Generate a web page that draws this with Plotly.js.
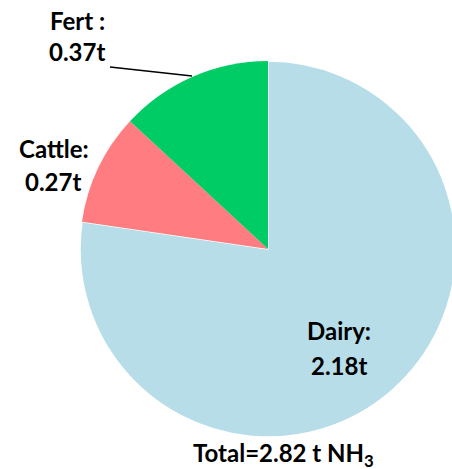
<!DOCTYPE html>
<html>
<head>
<meta charset="utf-8">
<script src="https://cdn.plot.ly/plotly-3.0.1.min.js"></script>
<style>
html,body{margin:0;padding:0;overflow:hidden;background:#fff;}
#chart{width:456px;height:469px;}
</style>
</head>
<body>
<div id="chart"></div>
<script>
const categories = ["Dairy", "Cattle", "Fert"];
const values = [2.18, 0.27, 0.37];
const total = 2.82;
const labelNames = ["Dairy:", "Cattle:", "Fert :"];
const colors = ["#B7DDE8", "#FF7C80", "#00CC66"];

const W = 456, H = 469;
const M = {l: 80, r: 0, t: 60, b: 31};
const pw = W - M.l - M.r, ph = H - M.t - M.b;
function px(x) { return (x - M.l) / pw; }
function py(y) { return (H - M.b - y) / ph; }

const font = {family: "Lato, 'Open Sans', sans-serif", size: 24, color: "#000"};
function ann(text, x, y) {
  return {text: "<b>" + text + "</b>", x: px(x), y: py(y), xref: "paper", yref: "paper",
          showarrow: false, xanchor: "center", yanchor: "middle", font: font};
}
const pos = {
  Dairy: [[339, 330], [339, 365]],
  Cattle: [[54, 148], [53, 181]],
  Fert: [[77, 21], [77, 51]]
};
const annotations = [];
categories.forEach((c, i) => {
  annotations.push(ann(labelNames[i], pos[c][0][0], pos[c][0][1]));
  annotations.push(ann(values[i].toFixed(2) + "t", pos[c][1][0], pos[c][1][1]));
});
annotations.push(ann("Total=" + total.toFixed(2) + " t NH<sub>3</sub>", 283, 455));

const data = [{
  type: "pie",
  labels: categories,
  values: values,
  sort: false,
  direction: "clockwise",
  rotation: 0,
  textinfo: "none",
  hoverinfo: "label+value",
  marker: {colors: colors, line: {color: ["#ffffff", "rgba(0,0,0,0)", "rgba(0,0,0,0)"], width: [1.5, 0, 0]}},
  domain: {x: [0, 1], y: [0, 1]},
  showlegend: false
}];

const layout = {
  width: W, height: H,
  margin: M,
  paper_bgcolor: "#fff",
  showlegend: false,
  annotations: annotations,
  shapes: [{type: "line", xref: "paper", yref: "paper",
            x0: px(110), y0: py(67), x1: px(192), y1: py(76),
            line: {color: "#000", width: 1.5}}]
};

Plotly.newPlot("chart", data, layout, {displayModeBar: false, staticPlot: true});
</script>
</body>
</html>
